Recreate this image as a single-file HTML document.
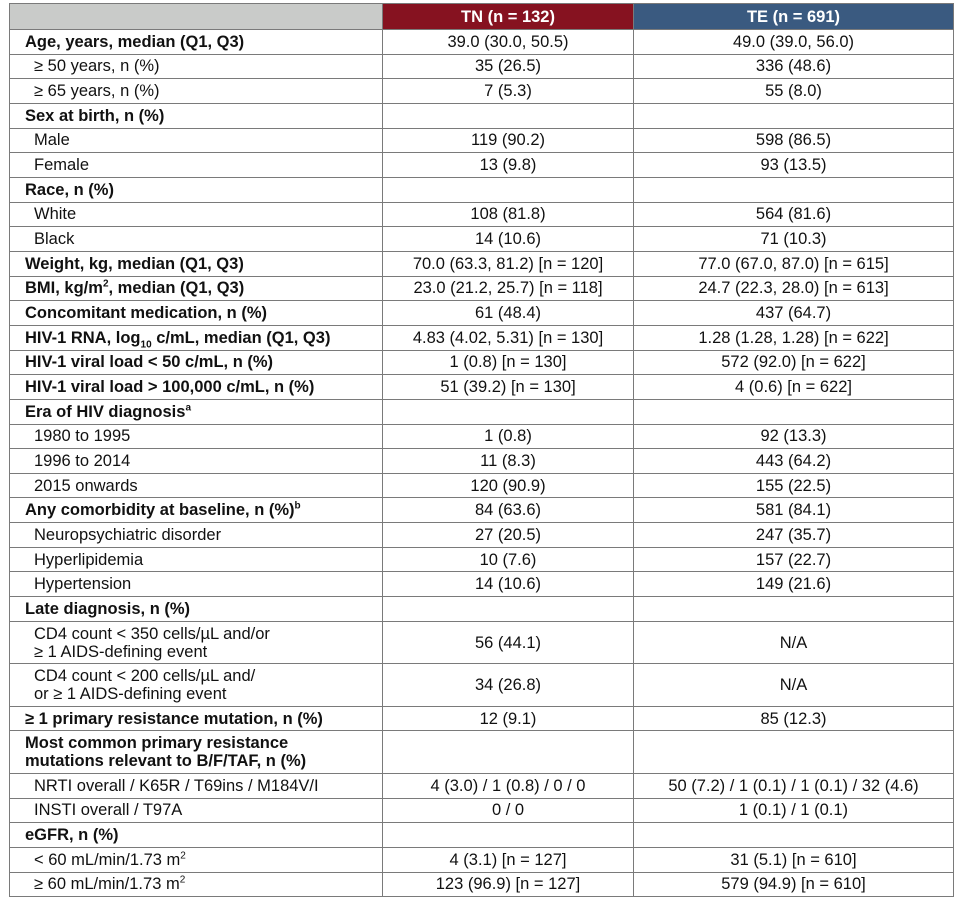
<!DOCTYPE html>
<html><head><meta charset="utf-8"><style>
body{margin:0;background:#fff;width:960px;height:902px;overflow:hidden}
table{position:absolute;left:9px;top:3px;border-collapse:collapse;font-family:"Liberation Sans",Arial,sans-serif;font-size:16.5px;color:#111;table-layout:fixed;width:944px}
td{border:1px solid #7a7a7a;padding:0 0 0 15px;height:23.67px;line-height:18px;white-space:nowrap;overflow:hidden}
td.v{text-align:center;padding:0}
tr.h td{height:25px;font-weight:bold;color:#fff;text-align:center;padding:0}
tr.d td{height:41.5px}
td.b{font-weight:bold}
td.i{padding-left:24px}
sup,sub{font-size:10px;line-height:0}
</style></head><body>
<table>
<colgroup><col style="width:373px"><col style="width:251px"><col style="width:320px"></colgroup>
<tr class="h"><td style="background:#c9cbc9"></td><td style="background:#861220">TN (n = 132)</td><td style="background:#3a5a80">TE (n = 691)</td></tr>
<tr><td class="b">Age, years, median (Q1, Q3)</td><td class="v">39.0 (30.0, 50.5)</td><td class="v">49.0 (39.0, 56.0)</td></tr>
<tr><td class="i">≥ 50 years, n (%)</td><td class="v">35 (26.5)</td><td class="v">336 (48.6)</td></tr>
<tr><td class="i">≥ 65 years, n (%)</td><td class="v">7 (5.3)</td><td class="v">55 (8.0)</td></tr>
<tr><td class="b">Sex at birth, n (%)</td><td></td><td></td></tr>
<tr><td class="i">Male</td><td class="v">119 (90.2)</td><td class="v">598 (86.5)</td></tr>
<tr><td class="i">Female</td><td class="v">13 (9.8)</td><td class="v">93 (13.5)</td></tr>
<tr><td class="b">Race, n (%)</td><td></td><td></td></tr>
<tr><td class="i">White</td><td class="v">108 (81.8)</td><td class="v">564 (81.6)</td></tr>
<tr><td class="i">Black</td><td class="v">14 (10.6)</td><td class="v">71 (10.3)</td></tr>
<tr><td class="b">Weight, kg, median (Q1, Q3)</td><td class="v">70.0 (63.3, 81.2) [n = 120]</td><td class="v">77.0 (67.0, 87.0) [n = 615]</td></tr>
<tr><td class="b">BMI, kg/m<sup>2</sup>, median (Q1, Q3)</td><td class="v">23.0 (21.2, 25.7) [n = 118]</td><td class="v">24.7 (22.3, 28.0) [n = 613]</td></tr>
<tr><td class="b">Concomitant medication, n (%)</td><td class="v">61 (48.4)</td><td class="v">437 (64.7)</td></tr>
<tr><td class="b">HIV-1 RNA, log<sub>10</sub> c/mL, median (Q1, Q3)</td><td class="v">4.83 (4.02, 5.31) [n = 130]</td><td class="v">1.28 (1.28, 1.28) [n = 622]</td></tr>
<tr><td class="b">HIV-1 viral load &lt; 50 c/mL, n (%)</td><td class="v">1 (0.8) [n = 130]</td><td class="v">572 (92.0) [n = 622]</td></tr>
<tr><td class="b">HIV-1 viral load &gt; 100,000 c/mL, n (%)</td><td class="v">51 (39.2) [n = 130]</td><td class="v">4 (0.6) [n = 622]</td></tr>
<tr><td class="b">Era of HIV diagnosis<sup>a</sup></td><td></td><td></td></tr>
<tr><td class="i">1980 to 1995</td><td class="v">1 (0.8)</td><td class="v">92 (13.3)</td></tr>
<tr><td class="i">1996 to 2014</td><td class="v">11 (8.3)</td><td class="v">443 (64.2)</td></tr>
<tr><td class="i">2015 onwards</td><td class="v">120 (90.9)</td><td class="v">155 (22.5)</td></tr>
<tr><td class="b">Any comorbidity at baseline, n (%)<sup>b</sup></td><td class="v">84 (63.6)</td><td class="v">581 (84.1)</td></tr>
<tr><td class="i">Neuropsychiatric disorder</td><td class="v">27 (20.5)</td><td class="v">247 (35.7)</td></tr>
<tr><td class="i">Hyperlipidemia</td><td class="v">10 (7.6)</td><td class="v">157 (22.7)</td></tr>
<tr><td class="i">Hypertension</td><td class="v">14 (10.6)</td><td class="v">149 (21.6)</td></tr>
<tr><td class="b">Late diagnosis, n (%)</td><td></td><td></td></tr>
<tr class="d"><td class="i">CD4 count &lt; 350 cells/µL and/or<br>≥ 1 AIDS-defining event</td><td class="v">56 (44.1)</td><td class="v">N/A</td></tr>
<tr class="d"><td class="i">CD4 count &lt; 200 cells/µL and/<br>or ≥ 1 AIDS-defining event</td><td class="v">34 (26.8)</td><td class="v">N/A</td></tr>
<tr><td class="b">≥ 1 primary resistance mutation, n (%)</td><td class="v">12 (9.1)</td><td class="v">85 (12.3)</td></tr>
<tr class="d"><td class="b">Most common primary resistance<br>mutations relevant to B/F/TAF, n (%)</td><td></td><td></td></tr>
<tr><td class="i">NRTI overall / K65R / T69ins / M184V/I</td><td class="v">4 (3.0) / 1 (0.8) / 0 / 0</td><td class="v">50 (7.2) / 1 (0.1) / 1 (0.1) / 32 (4.6)</td></tr>
<tr><td class="i">INSTI overall / T97A</td><td class="v">0 / 0</td><td class="v">1 (0.1) / 1 (0.1)</td></tr>
<tr><td class="b">eGFR, n (%)</td><td></td><td></td></tr>
<tr><td class="i">&lt; 60 mL/min/1.73 m<sup>2</sup></td><td class="v">4 (3.1) [n = 127]</td><td class="v">31 (5.1) [n = 610]</td></tr>
<tr><td class="i">≥ 60 mL/min/1.73 m<sup>2</sup></td><td class="v">123 (96.9) [n = 127]</td><td class="v">579 (94.9) [n = 610]</td></tr>
</table>
</body></html>
